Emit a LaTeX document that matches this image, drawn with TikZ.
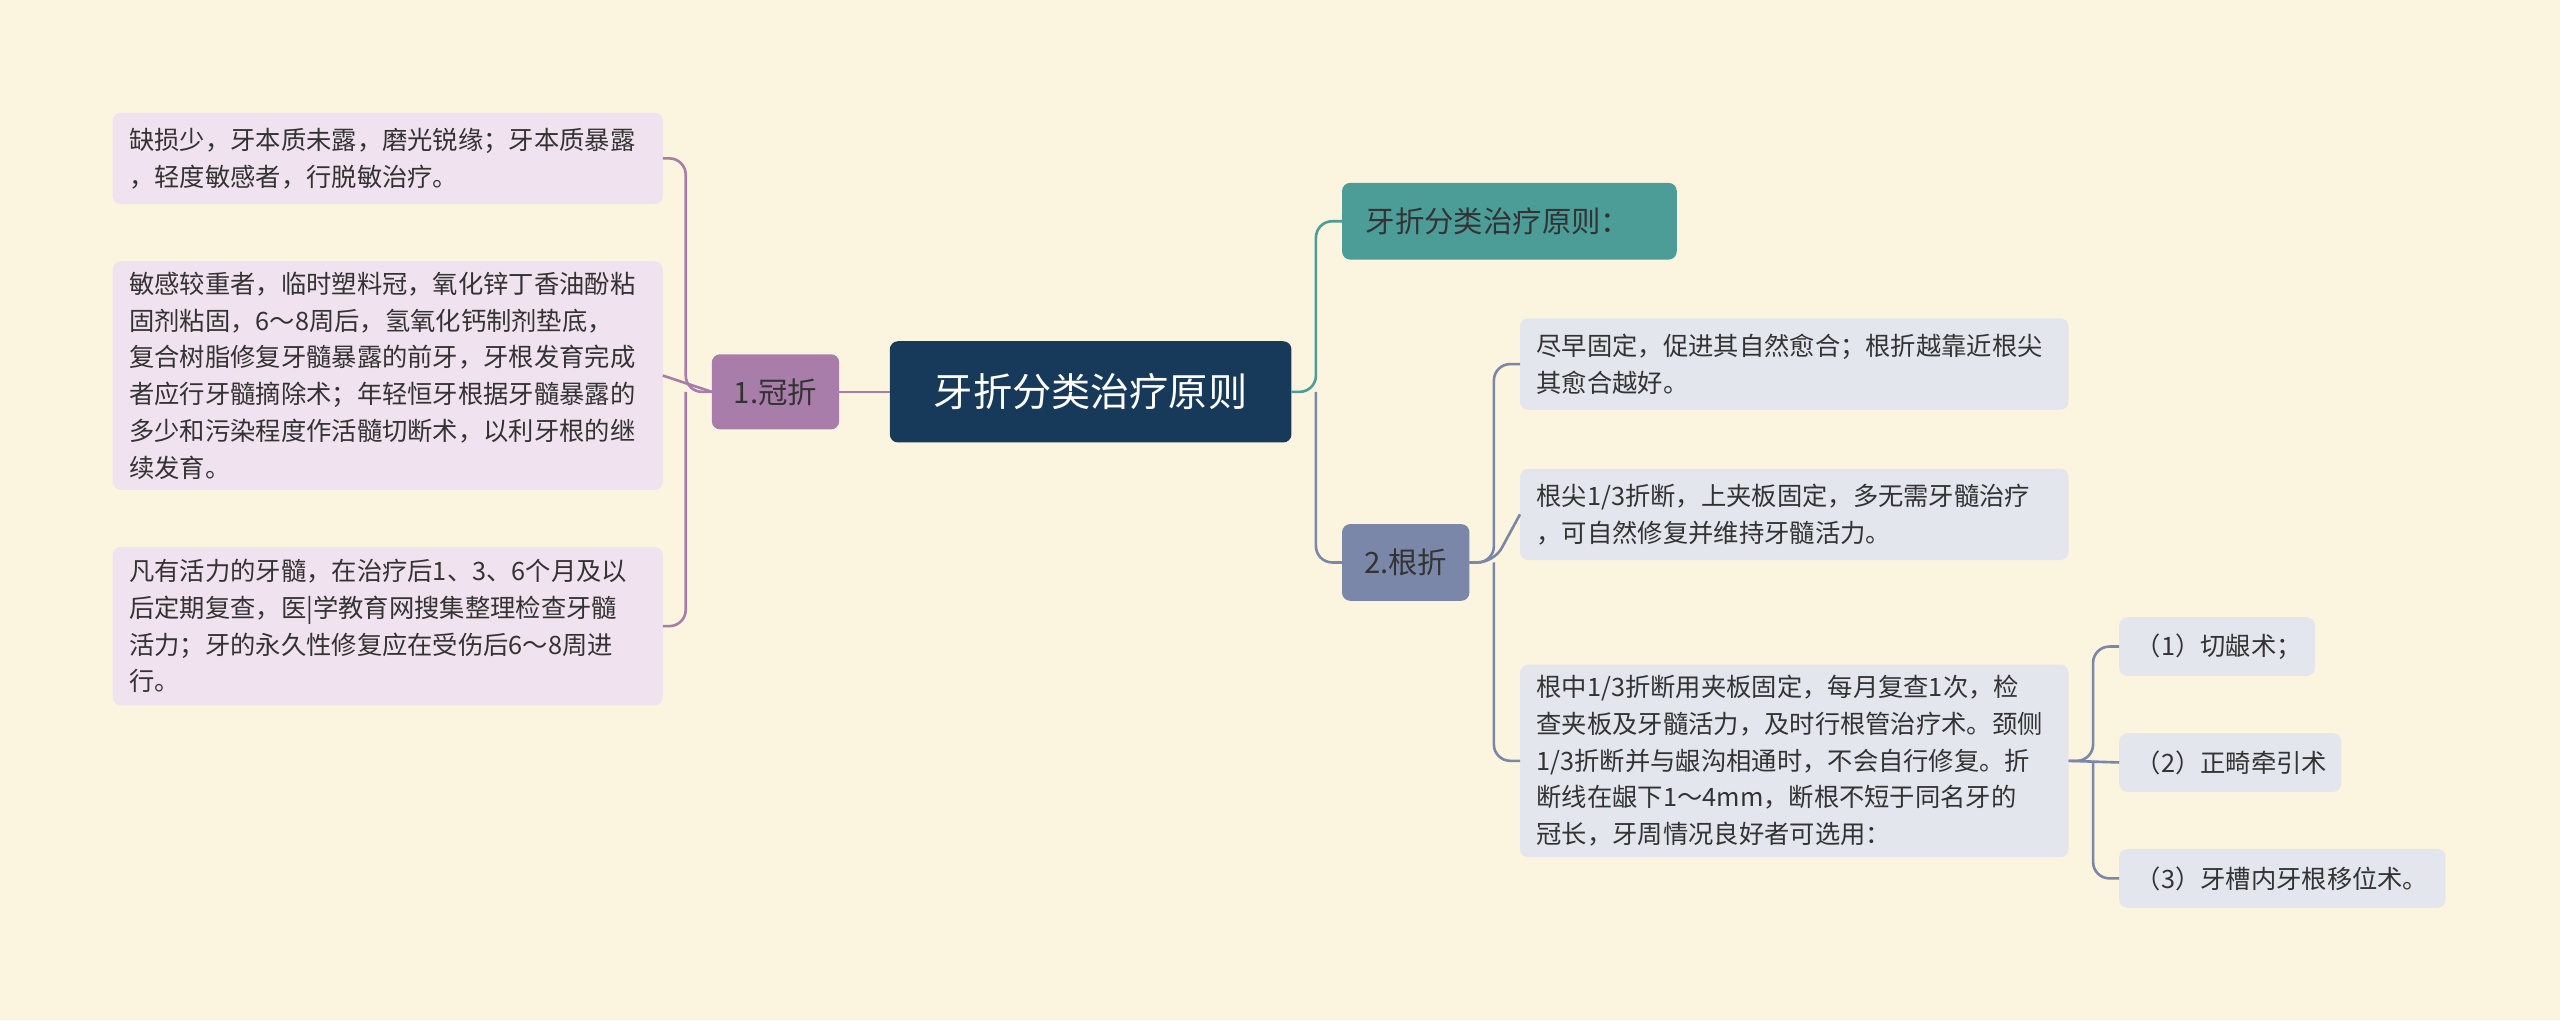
\documentclass[tikz,border=0pt]{standalone}
\usepackage{fontspec}
\setmainfont{Noto Sans CJK SC}
\definecolor{bg}{HTML}{FBF5E0}
\definecolor{cen}{HTML}{173A5A}
\definecolor{pur}{HTML}{A97DA9}
\definecolor{purl}{HTML}{F0E3EF}
\definecolor{teal}{HTML}{4C9C98}
\definecolor{gb}{HTML}{7B87A8}
\definecolor{gbl}{HTML}{E4E6EE}
\definecolor{txt}{HTML}{333333}
\tikzset{
 box/.style={rounded corners=5pt,inner sep=0pt,anchor=north west,text=txt,align=left},
 leaf/.style={box,font=\fontsize{15.5}{22.5}\selectfont},
 con/.style={line width=1.6pt,rounded corners=10pt}
}
\begin{document}
\begin{tikzpicture}[x=1pt,y=-1pt]
\useasboundingbox[fill=bg] (0,0) rectangle (1568,625);
% nodes as rectangles with text
\newcommand{\bx}[7]{% name x1 y1 x2 y2 fill text
 \fill[#6,rounded corners=5pt] (#2,#3) rectangle (#4,#5);
 \coordinate (#1-w) at (#2,{(#3+#5)/2});
 \coordinate (#1-e) at (#4,{(#3+#5)/2});
 \node[leaf,anchor=west] (#1) at ({#2+10},{(#3+#5)/2}) {#7};}
\bx{cen}{545}{209}{791}{271}{cen}{}
\node[text=white,font=\fontsize{24}{28}\selectfont] (ct) at (668,240) {牙折分类治疗原则};
\bx{gz}{436}{217}{514}{263}{pur}{}
\node[text=txt,font=\fontsize{18}{22}\selectfont] (gzt) at (475,240) {1.冠折};
\bx{yz}{822}{112}{1027}{159}{teal}{}
\node[text=txt,font=\fontsize{18}{22}\selectfont,anchor=west] (yzt) at (833,135.5) {牙折分类治疗原则：};
\bx{gen}{822}{321}{900}{368}{gb}{}
\node[text=txt,font=\fontsize{18}{22}\selectfont] (gent) at (861,344.5) {2.根折};

\bx{l1}{69}{69}{406}{125}{purl}{缺损少，牙本质未露，磨光锐缘；牙本质暴露\\，轻度敏感者，行脱敏治疗。}
\bx{l2}{69}{160}{406}{300}{purl}{敏感较重者，临时塑料冠，氧化锌丁香油酚粘\\固剂粘固，6～8周后，氢氧化钙制剂垫底，\\复合树脂修复牙髓暴露的前牙，牙根发育完成\\者应行牙髓摘除术；年轻恒牙根据牙髓暴露的\\多少和污染程度作活髓切断术，以利牙根的继\\续发育。}
\bx{l3}{69}{335}{406}{432}{purl}{凡有活力的牙髓，在治疗后1、3、6个月及以\\后定期复查，医|学教育网搜集整理检查牙髓\\活力；牙的永久性修复应在受伤后6～8周进\\行。}
\bx{r1}{931}{195}{1267}{251}{gbl}{尽早固定，促进其自然愈合；根折越靠近根尖\\其愈合越好。}
\bx{r2}{931}{287}{1267}{343}{gbl}{根尖1/3折断，上夹板固定，多无需牙髓治疗\\，可自然修复并维持牙髓活力。}
\bx{r3}{931}{407}{1267}{525}{gbl}{根中1/3折断用夹板固定，每月复查1次，检\\查夹板及牙髓活力，及时行根管治疗术。颈侧\\1/3折断并与龈沟相通时，不会自行修复。折\\断线在龈下1～4mm，断根不短于同名牙的\\冠长，牙周情况良好者可选用：}
\bx{s1}{1298}{378}{1418}{414}{gbl}{（1）切龈术；}
\bx{s2}{1298}{449}{1434}{485}{gbl}{（2）正畸牵引术}
\bx{s3}{1298}{520}{1498}{556}{gbl}{（3）牙槽内牙根移位术。}

% connectors
\draw[con,pur] (gz-w) -- (420,240) |- (l1-e);
\draw[con,pur] (420,240) |- (l3-e);
\draw[con,pur] (gz-w) -- (l2-e);
\draw[con,pur] (cen-w) -- (gz-e);
\draw[con,teal] (cen-e) -- (806,240) |- (yz-w);
\draw[con,gb] (806,240) |- (gen-w);
\draw[con,gb] (gen-e) -- (915,344.5) |- (r1-w);
\draw[con,gb] (915,344.5) |- (r3-w);
\draw[con,gb] (gen-e) -- (915,344.5) -- (r2-w);
\draw[con,gb] (r3-e) -- (1282,466) |- (s1-w);
\draw[con,gb] (1282,466) |- (s3-w);
\draw[con,gb] (r3-e) -- (s2-w);
\end{tikzpicture}
\end{document}
